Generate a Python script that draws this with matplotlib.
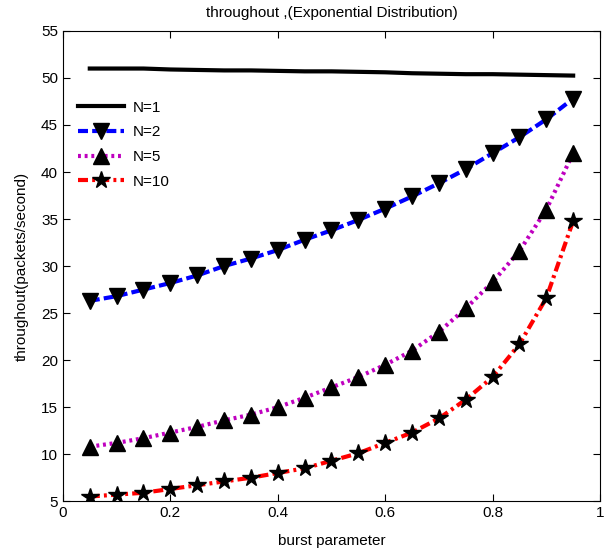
import matplotlib
matplotlib.use('Agg')
import matplotlib.pyplot as plt
import numpy as np

plt.rcParams['font.family'] = ['Liberation Sans', 'DejaVu Sans']

burst = [0.05, 0.10, 0.15, 0.20, 0.25, 0.30, 0.35, 0.40, 0.45, 0.50,
         0.55, 0.60, 0.65, 0.70, 0.75, 0.80, 0.85, 0.90, 0.95]
n1 = [51.0, 51.0, 51.0, 50.9, 50.85, 50.8, 50.8, 50.75, 50.7, 50.7,
      50.65, 50.6, 50.5, 50.45, 50.4, 50.4, 50.35, 50.3, 50.25]
n2 = [26.3, 26.8, 27.5, 28.2, 29.0, 30.0, 30.8, 31.7, 32.8, 33.8,
      34.9, 36.1, 37.4, 38.8, 40.3, 42.0, 43.7, 45.6, 47.8]
n5 = [10.8, 11.2, 11.7, 12.3, 12.9, 13.6, 14.2, 15.0, 16.0, 17.1,
      18.2, 19.5, 21.0, 23.0, 25.5, 28.3, 31.6, 36.0, 42.0]
n10 = [5.5, 5.7, 5.9, 6.3, 6.7, 7.1, 7.5, 8.0, 8.5, 9.3,
       10.1, 11.2, 12.3, 13.8, 15.8, 18.2, 21.7, 26.6, 34.8]

fig = plt.figure(figsize=(6.11, 5.52), dpi=100)
ax = fig.add_axes([0.103, 0.092, 0.879, 0.852])

ax.plot(burst, n1, '-', color='black', lw=3, label='N=1')
ax.plot(burst, n2, color='blue', lw=3, ls=(0, (2.4, 1.0)), marker='v', ms=11,
        mfc='black', mec='black', label='N=2')
ax.plot(burst, n5, color='#bf00bf', lw=3, ls=(0, (0.7, 0.9)), marker='^', ms=11,
        mfc='black', mec='black', label='N=5')
ax.plot(burst, n10, color='red', lw=3, ls=(0, (2.4, 1.0, 0.7, 1.0)), marker='*',
        ms=13, mfc='black', mec='black', label='N=10')

ax.set_xlim(0, 1)
ax.set_ylim(5, 55)
ax.set_xticks(np.arange(0, 1.01, 0.2))
ax.set_xticklabels(['0', '0.2', '0.4', '0.6', '0.8', '1'])
ax.set_yticks(range(5, 56, 5))
ax.tick_params(direction='in', top=True, right=True, labelsize=11, length=5)
for s in ax.spines.values():
    s.set_linewidth(0.8)

ax.set_xlabel('burst parameter', fontsize=11, labelpad=10)
ax.set_ylabel('throughout(packets/second)', fontsize=11, labelpad=9)
ax.set_title('throughout ,(Exponential Distribution)', fontsize=11, pad=10)

ax.legend(loc='upper left', bbox_to_anchor=(0.0, 0.884), frameon=False,
          fontsize=11, handlelength=3.0, handletextpad=0.6, labelspacing=0.7,
          borderaxespad=0.6)

fig.savefig('out.png', dpi=100)
